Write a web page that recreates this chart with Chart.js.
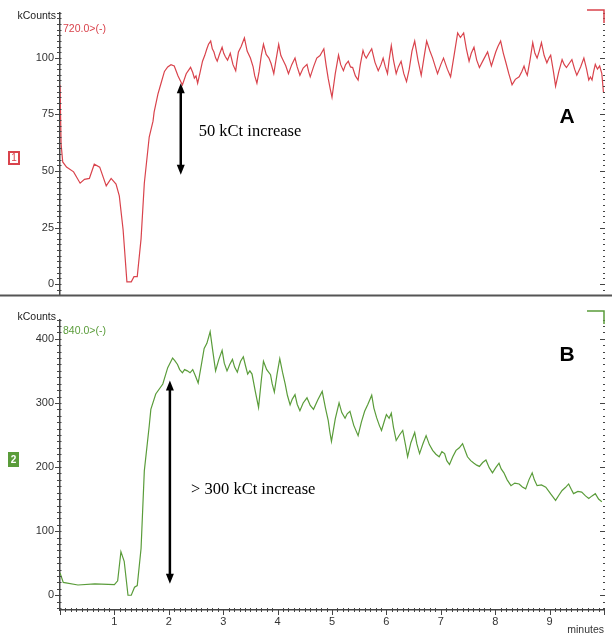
<!DOCTYPE html>
<html>
<head>
<meta charset="utf-8">
<script src="https://cdn.jsdelivr.net/npm/chart.js@4.4.1/dist/chart.umd.min.js"></script>
<style>
  html, body { margin: 0; padding: 0; background: #fff; }
  #wrap { position: relative; width: 612px; height: 639px; }
  canvas { position: absolute; left: 0; }
  #topChart { top: 0; }
  #bottomChart { top: 307px; }
</style>
</head>
<body>
<div id="wrap">
  <canvas id="topChart" width="612" height="308"></canvas>
  <canvas id="bottomChart" width="612" height="332"></canvas>
</div>
<script>
// trace 1 (720.0 > (-)), minutes / kCounts
const topTime = [0, 0.02, 0.05, 0.12, 0.25, 0.37, 0.45, 0.54, 0.63, 0.73,
  0.85, 0.94, 1.03, 1.09, 1.16, 1.23, 1.31, 1.36, 1.42, 1.49,
  1.55, 1.64, 1.71, 1.73, 1.80, 1.86, 1.92, 1.98, 2.04, 2.10,
  2.17, 2.25, 2.32,
  2.40, 2.44, 2.47, 2.50, 2.53, 2.57, 2.62, 2.66, 2.70, 2.73,
  2.77, 2.80, 2.83, 2.86, 2.89, 2.93, 2.98, 3.01, 3.04, 3.08,
  3.13, 3.18, 3.23, 3.25, 3.28, 3.33, 3.39, 3.44, 3.50, 3.55,
  3.58, 3.62, 3.66, 3.70, 3.74, 3.79, 3.84, 3.88, 3.93, 3.97,
  4.02, 4.06, 4.11, 4.15, 4.20, 4.26, 4.32, 4.36, 4.41, 4.47,
  4.54, 4.57, 4.60, 4.66, 4.72, 4.78, 4.85, 4.89, 4.93, 4.97,
  5.00, 5.06, 5.12, 5.16, 5.21, 5.25, 5.30, 5.34, 5.38, 5.43,
  5.48, 5.52, 5.57, 5.60, 5.63, 5.68, 5.73, 5.79, 5.85, 5.90,
  5.94, 5.98, 6.02, 6.05, 6.09, 6.13, 6.18, 6.22, 6.27, 6.32,
  6.37, 6.42, 6.47, 6.52, 6.58, 6.64, 6.69, 6.74, 6.80, 6.85,
  6.90, 6.94, 7.00, 7.05, 7.12, 7.18, 7.25, 7.31, 7.36, 7.42,
  7.47, 7.52, 7.56, 7.61, 7.66, 7.71, 7.78, 7.86, 7.90, 7.93,
  7.97, 8.01, 8.05, 8.10, 8.15, 8.19, 8.25, 8.31, 8.37, 8.44,
  8.49, 8.53, 8.56, 8.59, 8.64, 8.69, 8.73, 8.77, 8.81, 8.85,
  8.90, 8.95, 8.99, 9.02, 9.07, 9.11, 9.17, 9.23, 9.27, 9.31,
  9.36, 9.41, 9.46, 9.50, 9.57, 9.63, 9.68, 9.72, 9.75, 9.78,
  9.81, 9.84, 9.88, 9.92, 9.96, 9.99];
const topKCounts = [88, 62, 54, 51.7, 49.6, 44.6, 46.3, 46.7, 53, 51.7,
  43.4, 46.7, 44.2, 39, 24, 1, 1, 3.3, 3.3, 20,
  44.6, 65, 72, 76, 84, 89, 94, 96, 97, 96.4,
  92, 88, 93,
  95.8, 93.5, 91, 92, 88.8, 93, 98.5, 101, 104, 106,
  107.4, 104, 102.6, 100, 98.5, 101.5, 104.7, 102, 100.5, 99,
  102, 97, 94.3, 98, 102.6, 105, 108.8, 103, 99.9, 96,
  92, 88.8, 94, 101, 106, 101.5, 99.9, 97.5, 93, 99,
  106, 101, 98.5, 96.5, 93, 97, 99.9, 96, 92.3, 95.5,
  97.1, 94, 91.6, 96, 99.9, 101, 104, 97, 90.9, 86,
  82.6, 93, 101.2, 97, 94.3, 97, 98.5, 96, 95.7, 92,
  90.2, 97, 103.3, 101, 99.9, 102, 104, 98, 94.3, 97,
  99.9, 96, 93, 99, 105.4, 99, 93, 96, 98.5, 93,
  89.5, 95, 103, 107.4, 99, 92.3, 100, 107.4, 103, 99.9,
  96, 93, 97, 99.9, 95, 91.6, 102, 111, 109, 111,
  104, 98.5, 102, 104.7, 99, 95.7, 99, 102.6, 99, 96.4,
  99.5, 102.6, 105, 107.4, 102, 98.5, 93, 88.1, 90.5, 91.6,
  94, 96.4, 94, 92.3, 99, 106.7, 102, 99.9, 103, 106.7,
  101, 97.8, 100, 101.2, 94, 87.5, 94, 99.2, 97, 95.7,
  97.5, 99.2, 95, 92.3, 96, 99.9, 95, 90.2, 91.5, 90.2,
  94, 97.1, 95, 96.4, 93, 84.7];

// trace 2 (840.0 > (-))
const bottomTime = [0, 0.06, 0.33, 0.64, 1.00, 1.06, 1.12, 1.18, 1.25, 1.31,
  1.37, 1.42, 1.49, 1.55, 1.64, 1.67, 1.76, 1.89, 1.98,
  2.07, 2.11, 2.16, 2.20, 2.25, 2.29, 2.34, 2.39, 2.44, 2.49,
  2.54, 2.60, 2.65, 2.70, 2.76, 2.81, 2.86, 2.92, 2.98, 3.02,
  3.07, 3.12, 3.17, 3.21, 3.26, 3.29, 3.32, 3.37, 3.41, 3.45,
  3.49, 3.53, 3.59, 3.65, 3.70, 3.74, 3.80, 3.87, 3.90, 3.94,
  3.99, 4.04, 4.09, 4.14, 4.18, 4.23, 4.27, 4.32, 4.36, 4.41,
  4.47, 4.54, 4.60, 4.66, 4.74, 4.82, 4.88, 4.93, 4.96, 4.99,
  5.06, 5.13, 5.18, 5.24, 5.28, 5.33, 5.40, 5.48, 5.54, 5.60,
  5.66, 5.73, 5.77, 5.82, 5.87, 5.91, 5.96, 6.00, 6.05, 6.09,
  6.13, 6.18, 6.24, 6.30, 6.35, 6.39, 6.45, 6.52, 6.56, 6.61,
  6.67, 6.73, 6.79, 6.85, 6.91, 6.97, 7.02, 7.07, 7.11, 7.16,
  7.22, 7.28, 7.34, 7.40, 7.45, 7.49, 7.55, 7.61, 7.66, 7.71,
  7.77, 7.83, 7.89, 7.95, 8.01, 8.07, 8.11, 8.16, 8.22, 8.29,
  8.36, 8.44, 8.50, 8.56, 8.62, 8.68, 8.72, 8.77, 8.85, 8.93,
  9.02, 9.11, 9.17, 9.23, 9.29, 9.35, 9.40, 9.44, 9.52, 9.59,
  9.66, 9.72, 9.78, 9.84, 9.90, 9.96];
const bottomKCounts = [35, 20, 16, 17.6, 16.6, 22.6, 68, 53, 0, 0,
  12.6, 15, 73, 194, 264, 290, 314, 329.5, 355,
  370, 366, 360, 352, 347, 352, 350, 347, 352, 342,
  331, 360, 385, 393, 411, 380, 350, 368, 382, 362,
  350, 360, 368, 356, 348, 357, 365, 372, 358, 345,
  350, 345, 318, 293, 335, 365, 352, 344, 330, 317,
  345, 369, 348, 329.5, 312, 297, 306, 313, 298, 288,
  300, 308, 296, 290, 305, 318, 292, 273, 255, 240,
  275, 300, 285, 276, 283, 287, 265, 249, 270, 287,
  298, 312, 292, 277, 265, 257, 271, 282, 276, 284,
  262, 241.5, 250, 257, 235, 216, 238, 254, 236, 221,
  236, 249, 235, 226, 220, 216, 224, 221, 210, 204,
  216, 226, 230, 236.5, 225, 216, 210, 206, 203, 201,
  207, 211, 199, 191, 199, 206, 197, 191, 180, 171,
  175, 173.6, 169, 166, 180, 191, 180, 171, 172, 168.6,
  158, 148, 156, 163.5, 168, 173.6, 165, 158.5, 162, 161,
  155, 151, 155, 158.5, 150, 146];

const topTicks = [0, 25, 50, 75, 100];
const bottomTicks = [0, 100, 200, 300, 400];
const minuteTicks = [1, 2, 3, 4, 5, 6, 7, 8, 9];

const RED = '#d9434c';
const GREEN = '#5a9c3a';
const AXIS = '#444';
const LABEL = '#333';
const FONT = "'Liberation Sans', Arial, sans-serif";
const SERIF = "'Liberation Serif', 'Times New Roman', serif";

function makeSeries(times, values) {
  return times.map((t, i) => ({ x: t, y: values[i] }));
}

// double headed arrow in data coordinates
function drawArrow(ctx, xs, ys, t, v1, v2) {
  const x = xs.getPixelForValue(t);
  const y1 = ys.getPixelForValue(v1);
  const y2 = ys.getPixelForValue(v2);
  ctx.save();
  ctx.strokeStyle = '#000';
  ctx.fillStyle = '#000';
  ctx.lineWidth = 2.5;
  ctx.beginPath();
  ctx.moveTo(x, y1 + 8);
  ctx.lineTo(x, y2 - 8);
  ctx.stroke();
  ctx.beginPath();
  ctx.moveTo(x, y1); ctx.lineTo(x - 4, y1 + 10); ctx.lineTo(x + 4, y1 + 10); ctx.closePath();
  ctx.moveTo(x, y2); ctx.lineTo(x - 4, y2 - 10); ctx.lineTo(x + 4, y2 - 10); ctx.closePath();
  ctx.fill();
  ctx.restore();
}

function text(ctx, str, x, y, font, color, align) {
  ctx.font = font;
  ctx.fillStyle = color;
  ctx.textAlign = align || 'left';
  ctx.textBaseline = 'middle';
  ctx.fillText(str, x, y);
}

// minor/major tick marks on left, right and (optionally) bottom axis
function axisDecor(opts) {
  return {
    id: 'axisDecor',
    afterDraw(chart) {
      const { ctx, chartArea: a, scales: { x, y } } = chart;
      ctx.save();
      ctx.strokeStyle = AXIS;
      ctx.lineWidth = 1;
      ctx.beginPath();
      for (let i = Math.ceil(y.min / opts.yMinor); i * opts.yMinor <= y.max; i++) {
        const py = Math.round(y.getPixelForValue(i * opts.yMinor)) + 0.5;
        const major = i % opts.perMajor === 0;
        ctx.moveTo(major ? a.left - 5 : a.left - 3, py);
        ctx.lineTo(a.left + 1.5, py);
        ctx.moveTo(major ? a.right - 4 : a.right - 1, py);
        ctx.lineTo(a.right + 1, py);
      }
      if (opts.xTicks) {
        for (let i = 0; i <= 100; i++) {
          const px = Math.round(x.getPixelForValue(i / 10)) + 0.5;
          if (i % 10 === 0) {
            ctx.moveTo(px, a.bottom);
            ctx.lineTo(px, a.bottom + 5);
          } else {
            ctx.moveTo(px, a.bottom - 2);
            ctx.lineTo(px, a.bottom + 2);
          }
        }
      }
      ctx.stroke();

      // axis unit, trace name, trace badge, panel letter
      text(ctx, 'kCounts', 56, opts.unitY, '10.5px ' + FONT, '#222', 'right');
      text(ctx, opts.name, 63, opts.nameY, '10.5px ' + FONT, opts.color);
      if (opts.filledBadge) {
        ctx.fillStyle = opts.color;
        ctx.fillRect(8, opts.badgeY, 11, 15);
        text(ctx, opts.badge, 13.5, opts.badgeY + 8, 'bold 10px ' + FONT, '#fff', 'center');
      } else {
        ctx.strokeStyle = opts.color;
        ctx.lineWidth = 2;
        ctx.strokeRect(9, opts.badgeY + 1, 10, 12);
        text(ctx, opts.badge, 14, opts.badgeY + 7.5, '10px ' + FONT, opts.color, 'center');
      }
      text(ctx, opts.letter, 567, opts.letterY, 'bold 21px ' + FONT, '#000', 'center');

      // bracket marker at top right
      ctx.strokeStyle = opts.color;
      ctx.lineWidth = 1.5;
      ctx.beginPath();
      ctx.moveTo(587, opts.bracketY);
      ctx.lineTo(a.right, opts.bracketY);
      ctx.lineTo(a.right, opts.bracketY + 13);
      ctx.stroke();

      if (opts.separator) {
        ctx.strokeStyle = '#555';
        ctx.lineWidth = 2;
        ctx.beginPath();
        ctx.moveTo(0, a.bottom);
        ctx.lineTo(chart.width, a.bottom);
        ctx.stroke();
      }
      ctx.restore();
    },
    afterDatasetsDraw(chart) {
      const { ctx, scales: { x, y } } = chart;
      const an = opts.arrow;
      drawArrow(ctx, x, y, an.t, an.from, an.to);
      text(ctx, an.label, x.getPixelForValue(an.labelT), y.getPixelForValue(an.labelV),
        '16.5px ' + SERIF, '#000');
    }
  };
}

new Chart(document.getElementById('topChart'), {
  type: 'line',
  data: {
    datasets: [{
      data: makeSeries(topTime, topKCounts),
      borderColor: RED,
      borderWidth: 1.2,
      pointRadius: 0,
      tension: 0
    }]
  },
  options: {
    responsive: false,
    animation: false,
    devicePixelRatio: 1,
    layout: { padding: { left: 0, right: 8, top: 5, bottom: 1 } },
    plugins: { legend: { display: false }, tooltip: { enabled: false } },
    scales: {
      x: { type: 'linear', min: 0, max: 10, display: false },
      y: {
        min: -5,
        max: 120,
        afterBuildTicks: s => { s.ticks = topTicks.map(v => ({ value: v })); },
        afterFit: s => { s.width = 60; },
        grid: { display: false, drawTicks: false },
        border: { display: true, color: AXIS, width: 1.5 },
        ticks: { padding: 6, color: LABEL, font: { family: FONT, size: 11 } }
      }
    }
  },
  plugins: [axisDecor({
    yMinor: 2.5, perMajor: 10, xTicks: false,
    unitY: 16, name: '720.0>(-)', nameY: 29, color: RED,
    badge: '1', badgeY: 151, filledBadge: false,
    letter: 'A', letterY: 117, bracketY: 10, separator: true,
    arrow: { t: 2.22, from: 88.8, to: 48.3, label: '50 kCt increase', labelT: 2.55, labelV: 67.5 }
  })]
});

new Chart(document.getElementById('bottomChart'), {
  type: 'line',
  data: {
    datasets: [{
      data: makeSeries(bottomTime, bottomKCounts),
      borderColor: GREEN,
      borderWidth: 1.2,
      pointRadius: 0,
      tension: 0
    }]
  },
  options: {
    responsive: false,
    animation: false,
    devicePixelRatio: 1,
    layout: { padding: { left: 0, right: 8, top: 3, bottom: 0 } },
    plugins: { legend: { display: false }, tooltip: { enabled: false } },
    scales: {
      x: {
        type: 'linear',
        min: 0,
        max: 10,
        afterBuildTicks: s => { s.ticks = minuteTicks.map(v => ({ value: v })); },
        afterFit: s => { s.height = 29; },
        grid: { display: false, drawTicks: false },
        border: { display: true, color: AXIS, width: 1.5 },
        ticks: { padding: 5, color: LABEL, maxRotation: 0, font: { family: FONT, size: 11 } },
        title: {
          display: true, text: 'minutes', align: 'end', color: LABEL,
          font: { family: FONT, size: 10.5 }, padding: { top: 0, bottom: 3 }
        }
      },
      y: {
        min: -23,
        max: 430,
        afterBuildTicks: s => { s.ticks = bottomTicks.map(v => ({ value: v })); },
        afterFit: s => { s.width = 60; },
        grid: { display: false, drawTicks: false },
        border: { display: true, color: AXIS, width: 1.5 },
        ticks: { padding: 6, color: LABEL, font: { family: FONT, size: 11 } }
      }
    }
  },
  plugins: [axisDecor({
    yMinor: 10, perMajor: 10, xTicks: true,
    unitY: 10, name: '840.0>(-)', nameY: 24, color: GREEN,
    badge: '2', badgeY: 145, filledBadge: true,
    letter: 'B', letterY: 48, bracketY: 4, separator: false,
    arrow: { t: 2.02, from: 335, to: 18, label: '> 300 kCt increase', labelT: 2.41, labelV: 165 }
  })]
});
</script>
</body>
</html>
